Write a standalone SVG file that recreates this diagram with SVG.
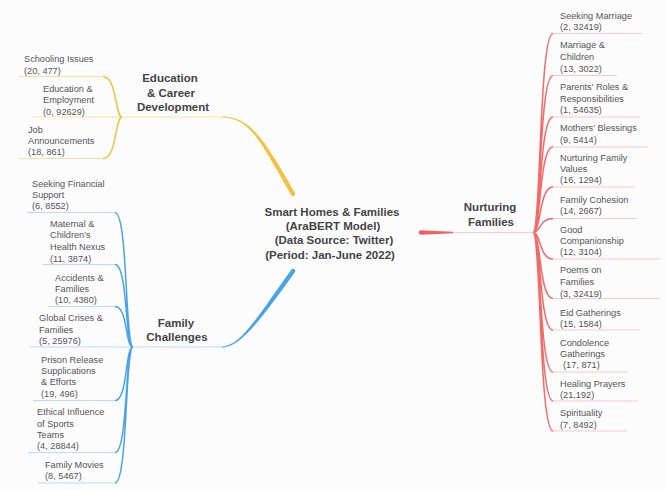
<svg xmlns="http://www.w3.org/2000/svg" width="665" height="489" viewBox="0 0 665 489">
<style>
.lbl{font-family:"Liberation Sans",Arial,sans-serif;font-size:9.2px;fill:#555}
.hd{font-family:"Liberation Sans",Arial,sans-serif;font-size:11.5px;font-weight:bold;fill:#444;text-anchor:middle}
.yc{fill:none;stroke:#f5c23f;stroke-width:1.5}
.yu{fill:none;stroke:#f9e2a0;stroke-width:1}
.bc{fill:none;stroke:#4aa3e6;stroke-width:1.5}
.bu{fill:none;stroke:#b8dbf5;stroke-width:1}
.rc{fill:none;stroke:#f26a6a;stroke-width:1.5}
.ru{fill:none;stroke:#f9c9c9;stroke-width:1}
</style>
<rect width="665" height="489" fill="#fcfcfc"/>
<g id="connectors">
  <!-- main branches -->
  <path d="M222,116.5 C250,116.4 263.9,138.9 294.9,192.9 A2.2,2.2 0 0 1 291.1,195.1 C260.1,141.1 250,117.6 222,117.5 Z" fill="#f5c23f"/>
  <path d="M222,346.5 C240,346.4 256.2,318.7 291.2,269.7 A2.2,2.2 0 0 1 294.8,272.3 C259.8,321.3 240,347.6 222,347.5 Z" fill="#4aa3e6"/>
  <path d="M453,231.7 L421,230.3 A2.2,2.2 0 0 0 421,234.7 L453,233.3 Z" fill="#f06262"/>
  <!-- yellow -->
  <path class="yu" d="M122,117 L222,117"/>
  <path class="yu" d="M103,76.5 L18,76.5 M122,117 L33,117 M103,158.5 L18,158.5"/>
  <path class="yc" d="M122,117 C115,117 117,76.5 103,76.5 M122,117 C115,117 117,158.5 103,158.5"/>
  <!-- blue -->
  <path class="bu" d="M133,347 L222,347"/>
  <path class="bu" d="M115,212.5 L27,212.5 M115,264.5 L43,264.5 M115,306.5 L48,306.5 M133,347 L30,347 M115,400.5 L33,400.5 M115,452.5 L28,452.5 M115,483 L38,483"/>
  <path class="bc" d="M133,347 C125,347 128,212.5 115,212.5 M133,347 C125,347 128,264.5 115,264.5 M133,347 C125,347 128,306.5 115,306.5 M133,347 C125,347 128,400.5 115,400.5 M133,347 C125,347 128,452.5 115,452.5 M133,347 C125,347 128,483 115,483"/>
  <!-- red -->
  <path class="ru" d="M453,232.5 L533,232.5"/>
  <path class="ru" d="M553,33.5 L642,33.5 M553,75.5 L617,75.5 M553,117 L640,117 M553,147 L648,147 M553,187 L635,187 M553,218.5 L637,218.5 M553,259 L660,259 M553,298.5 L660,298.5 M553,330 L640,330 M553,372 L628,372 M553,401 L638,401 M553,431 L627,431"/>
  <path class="rc" d="M533,232.5 C541,232.5 539,33.5 553,33.5 M533,232.5 C541,232.5 539,75.5 553,75.5 M533,232.5 C541,232.5 539,117 553,117 M533,232.5 C541,232.5 539,147 553,147 M533,232.5 C541,232.5 539,187 553,187 M533,232.5 C541,232.5 539,218.5 553,218.5 M533,232.5 C541,232.5 539,259 553,259 M533,232.5 C541,232.5 539,298.5 553,298.5 M533,232.5 C541,232.5 539,330 553,330 M533,232.5 C541,232.5 539,372 553,372 M533,232.5 C541,232.5 539,401 553,401 M533,232.5 C541,232.5 539,431 553,431"/>
</g>
<g id="center">
  <text class="hd"><tspan x="332" y="215.5">Smart Homes &amp; Families</tspan><tspan x="333" y="230">(AraBERT Model)</tspan><tspan x="334" y="244">(Data Source: Twitter)</tspan><tspan x="330" y="259">(Period: Jan-June 2022)</tspan></text>
</g>
<g id="education-career">
  <text class="hd"><tspan x="170" y="82">Education</tspan><tspan x="171" y="96.5">&amp; Career</tspan><tspan x="173" y="110.5">Development</tspan></text>
</g>
<g id="family-challenges">
  <text class="hd"><tspan x="176" y="327">Family</tspan><tspan x="177" y="341">Challenges</tspan></text>
</g>
<g id="nurturing-families">
  <text class="hd"><tspan x="490" y="211">Nurturing</tspan><tspan x="491" y="225.5">Families</tspan></text>
</g>
<g id="schooling-issues"><text class="lbl"><tspan x="24" y="62.3">Schooling Issues</tspan><tspan x="24" y="73.5">(20, 477)</tspan></text></g>
<g id="education-employment"><text class="lbl"><tspan x="43" y="91.5">Education &amp;</tspan><tspan x="43" y="103">Employment</tspan><tspan x="43" y="114.5">(0, 92629)</tspan></text></g>
<g id="job-announcements"><text class="lbl"><tspan x="28" y="133.2">Job</tspan><tspan x="28" y="144.3">Announcements</tspan><tspan x="28" y="155.3">(18, 861)</tspan></text></g>
<g id="seeking-financial"><text class="lbl"><tspan x="32" y="186.5">Seeking Financial</tspan><tspan x="32" y="197.5">Support</tspan><tspan x="32" y="208.5">(6, 8552)</tspan></text></g>
<g id="maternal-health"><text class="lbl"><tspan x="50" y="226.5">Maternal &amp;</tspan><tspan x="50" y="238.2">Children's</tspan><tspan x="50" y="250">Health Nexus</tspan><tspan x="50" y="261.5">(11, 3874)</tspan></text></g>
<g id="accidents-families"><text class="lbl"><tspan x="55" y="280.5">Accidents &amp;</tspan><tspan x="55" y="291.5">Families</tspan><tspan x="55" y="302.5">(10, 4380)</tspan></text></g>
<g id="global-crises"><text class="lbl"><tspan x="39" y="321">Global Crises &amp;</tspan><tspan x="39" y="332.5">Families</tspan><tspan x="39" y="344">(5, 25976)</tspan></text></g>
<g id="prison-release"><text class="lbl"><tspan x="41" y="362.5">Prison Release</tspan><tspan x="41" y="374">Supplications</tspan><tspan x="41" y="385">&amp; Efforts</tspan><tspan x="41" y="396.5">(19, 496)</tspan></text></g>
<g id="ethical-influence"><text class="lbl"><tspan x="37" y="415">Ethical Influence</tspan><tspan x="37" y="426.5">of Sports</tspan><tspan x="37" y="437.5">Teams</tspan><tspan x="37" y="449">(4, 28844)</tspan></text></g>
<g id="family-movies"><text class="lbl"><tspan x="45" y="467.5">Family Movies</tspan><tspan x="45" y="479">(8, 5467)</tspan></text></g>
<g id="seeking-marriage"><text class="lbl"><tspan x="560" y="19">Seeking Marriage</tspan><tspan x="560" y="30">(2, 32419)</tspan></text></g>
<g id="marriage-children"><text class="lbl"><tspan x="560" y="48">Marriage &amp;</tspan><tspan x="560" y="60">Children</tspan><tspan x="560" y="71.5">(13, 3022)</tspan></text></g>
<g id="parents-roles"><text class="lbl"><tspan x="560" y="90">Parents' Roles &amp;</tspan><tspan x="560" y="101.5">Responsibilities</tspan><tspan x="560" y="113">(1, 54635)</tspan></text></g>
<g id="mothers-blessings"><text class="lbl"><tspan x="560" y="131">Mothers' Blessings</tspan><tspan x="560" y="142.5">(9, 5414)</tspan></text></g>
<g id="nurturing-values"><text class="lbl"><tspan x="560" y="161">Nurturing Family</tspan><tspan x="560" y="171.7">Values</tspan><tspan x="560" y="183.2">(16, 1294)</tspan></text></g>
<g id="family-cohesion"><text class="lbl"><tspan x="560" y="202.5">Family Cohesion</tspan><tspan x="560" y="214.2">(14, 2667)</tspan></text></g>
<g id="good-companionship"><text class="lbl"><tspan x="560" y="233.2">Good</tspan><tspan x="560" y="244">Companionship</tspan><tspan x="560" y="255">(12, 3104)</tspan></text></g>
<g id="poems-families"><text class="lbl"><tspan x="560" y="273.2">Poems on</tspan><tspan x="560" y="285">Families</tspan><tspan x="560" y="296.5">(3, 32419)</tspan></text></g>
<g id="eid-gatherings"><text class="lbl"><tspan x="560" y="315.5">Eid Gatherings</tspan><tspan x="560" y="327.2">(15, 1584)</tspan></text></g>
<g id="condolence-gatherings"><text class="lbl"><tspan x="560" y="345.5">Condolence</tspan><tspan x="560" y="356.5">Gatherings</tspan><tspan x="563" y="368.2">(17, 871)</tspan></text></g>
<g id="healing-prayers"><text class="lbl"><tspan x="560" y="386.5">Healing Prayers</tspan><tspan x="560" y="398.2">(21,192)</tspan></text></g>
<g id="spirituality"><text class="lbl"><tspan x="560" y="416">Spirituality</tspan><tspan x="560" y="427.5">(7, 8492)</tspan></text></g>
</svg>
